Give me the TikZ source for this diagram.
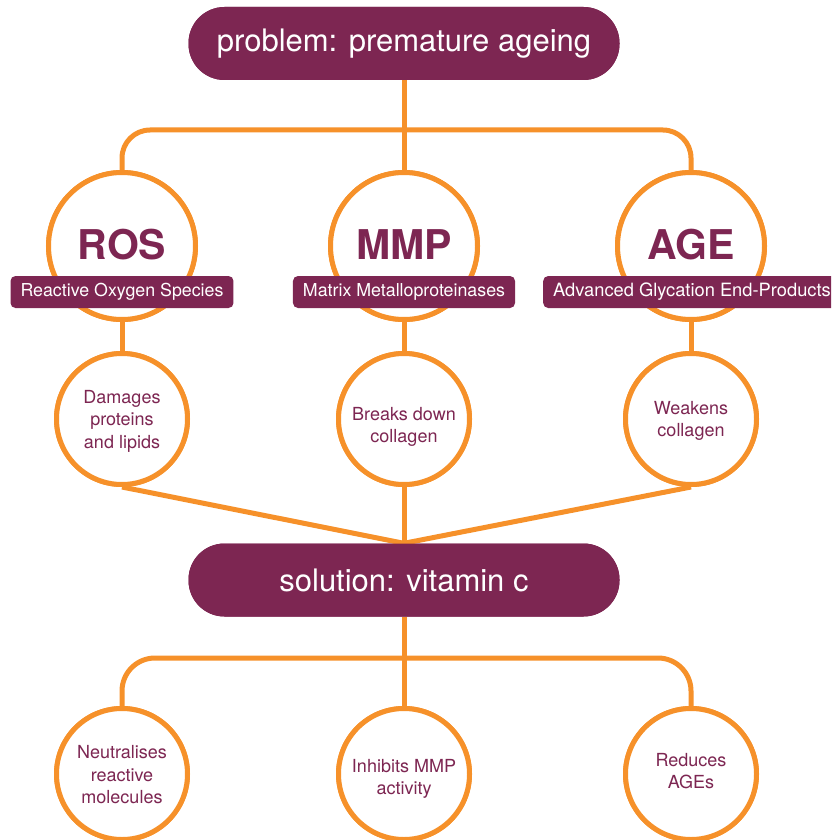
\documentclass[tikz,border=0pt]{standalone}
\usepackage{fontspec}
\setmainfont{TeX Gyre Heros}
\definecolor{plum}{HTML}{7D2652}
\definecolor{orng}{HTML}{F6912A}
\begin{document}
\begin{tikzpicture}[x=1pt,y=-1pt,
  conn/.style={draw=orng,line width=5pt},
  pill/.style={fill=plum,rounded corners=36pt,minimum width=431pt,minimum height=73pt,text=white,font=\fontsize{31}{36}\selectfont,inner sep=0pt},
  bigcirc/.style={circle,draw=orng,line width=5pt,fill=white,minimum size=147pt,inner sep=0pt},
  smallcirc/.style={circle,draw=orng,line width=5pt,fill=white,minimum size=131pt,inner sep=0pt},
  ctext/.style={text=plum,align=center,inner sep=0pt,font=\fontsize{18}{22.5}\selectfont},
  bigtext/.style={text=plum,font=\fontsize{41}{46}\selectfont\bfseries},
  tag/.style={fill=plum,rounded corners=5pt,text=white,minimum height=32pt,inner xsep=10pt,inner ysep=0pt,font=\fontsize{17.8}{20}\selectfont}
]
\useasboundingbox (0,0) rectangle (831,840);
\begin{scope}
\clip (0,0) rectangle (831,840);
% connector anchor coordinates
\coordinate (bar1) at (404,130);
\coordinate (bar2) at (404,658);
% shapes
\node[pill] (title) at (404,43.5) {problem: premature ageing};
\node[bigcirc] (ros) at (122,246) {};
\node[bigcirc] (mmp) at (404,246) {};
\node[bigcirc] (age) at (691,246) {};
\node[smallcirc] (d1) at (122,419) {};
\node[smallcirc] (d2) at (404,419) {};
\node[smallcirc] (d3) at (691,419) {};
\node[pill] (sol) at (404,580) {solution: vitamin c};
\node[smallcirc] (s1) at (122,774) {};
\node[smallcirc] (s2) at (404,774) {};
\node[smallcirc] (s3) at (691,774) {};
% connectors
\draw[conn] (title.south) -- (mmp.north);
\draw[conn,rounded corners=28pt] (ros.north) -- (ros.north |- bar1) -- (age.north |- bar1) -- (age.north);
\draw[conn] (ros.south) -- (d1.north);
\draw[conn] (mmp.south) -- (d2.north);
\draw[conn] (age.south) -- (d3.north);
\draw[conn] (d1.south) -- (sol.north);
\draw[conn] (d2.south) -- (sol.north);
\draw[conn] (d3.south) -- (sol.north);
\draw[conn] (sol.south) -- (s2.north);
\draw[conn,rounded corners=33pt] (s1.north) -- (s1.north |- bar2) -- (s3.north |- bar2) -- (s3.north);
% redraw shapes above connectors
\node[pill] at (title) {problem: premature ageing};
\node[pill] at (sol) {solution: vitamin c};
\foreach \n in {ros,mmp,age} {\node[bigcirc] at (\n) {};}
\foreach \n in {d1,d2,d3,s1,s2,s3} {\node[smallcirc] at (\n) {};}
% texts
\node[bigtext] (rosT) at (122,245) {ROS};
\node[bigtext] (mmpT) at (404,245) {MMP};
\node[bigtext] (ageT) at (691,245) {AGE};
\node[tag] (rosL) at (122,292) {Reactive Oxygen Species};
\node[tag] (mmpL) at (404,292) {Matrix Metalloproteinases};
\node[tag,anchor=west,font=\fontsize{18.3}{20}\selectfont] (ageL) at (543,292) {Advanced Glycation End-Products};
\node[ctext] (d1T) at (122,421) {Damages\\proteins\\and lipids};
\node[ctext] (d2T) at (404,427) {Breaks down\\collagen};
\node[ctext] (d3T) at (691,421) {Weakens\\collagen};
\node[ctext] (s1T) at (122,775) {Neutralises\\reactive\\molecules};
\node[ctext] (s2T) at (404,779) {Inhibits MMP\\activity};
\node[ctext] (s3T) at (691,771) {Reduces\\AGEs};
\end{scope}
\end{tikzpicture}
\end{document}
